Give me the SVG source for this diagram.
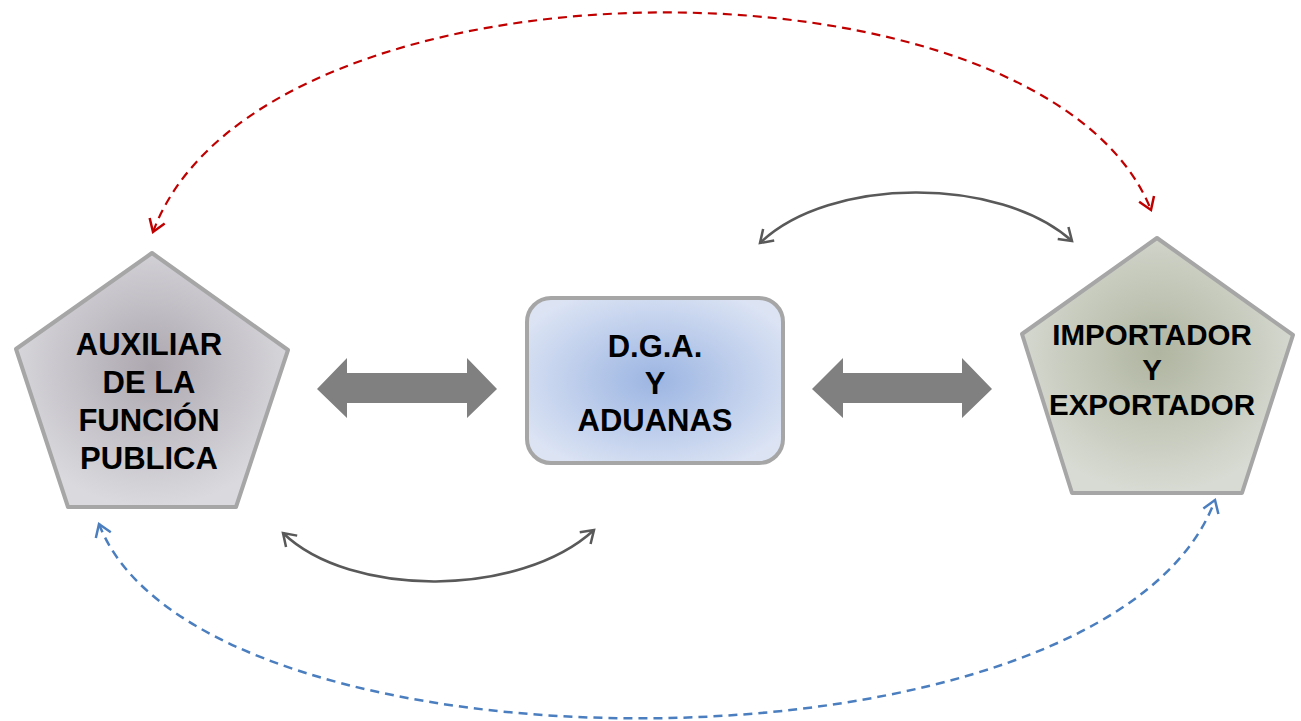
<svg xmlns="http://www.w3.org/2000/svg" width="1301" height="721" viewBox="0 0 1301 721">
<style>
.lbl{font-family:"Liberation Sans",Arial,sans-serif;font-weight:bold;font-size:31px;fill:#000;text-anchor:middle}
.lblr{font-size:29.5px}
.shape{stroke:#A6A6A6;stroke-width:4;stroke-linejoin:round}
.big{fill:#808080}
.gray{fill:none;stroke:#595959;stroke-width:2.5}
.red{fill:none;stroke:#C00000;stroke-width:2.2;stroke-dasharray:9 6}
.blue{fill:none;stroke:#4A7EBF;stroke-width:2.5;stroke-dasharray:9 6}
</style>
<defs>
<radialGradient id="gL" cx="50%" cy="45%" r="55%">
<stop offset="0" stop-color="#ADA7B0"/><stop offset="1" stop-color="#DADADE"/>
</radialGradient>
<radialGradient id="gR" cx="50%" cy="45%" r="55%">
<stop offset="0" stop-color="#AFB5A0"/><stop offset="1" stop-color="#D8DBD3"/>
</radialGradient>
<radialGradient id="gC" cx="50%" cy="50%" r="60%">
<stop offset="0" stop-color="#9CB5E2"/><stop offset="1" stop-color="#DCE4F4"/>
</radialGradient>
<marker id="mG" viewBox="0 0 20 20" refX="16" refY="10" markerWidth="20" markerHeight="20" markerUnits="userSpaceOnUse" orient="auto-start-reverse">
<path d="M4,2 L16,10 L4,18" fill="none" stroke="#595959" stroke-width="2.5"/>
</marker>
<marker id="mR" viewBox="0 0 20 20" refX="16" refY="10" markerWidth="20" markerHeight="20" markerUnits="userSpaceOnUse" orient="auto-start-reverse">
<path d="M4,2 L16,10 L4,18" fill="none" stroke="#C00000" stroke-width="2.5"/>
</marker>
<marker id="mB" viewBox="0 0 20 20" refX="16" refY="10" markerWidth="20" markerHeight="20" markerUnits="userSpaceOnUse" orient="auto-start-reverse">
<path d="M4,2 L16,10 L4,18" fill="none" stroke="#4A7EBF" stroke-width="2.5"/>
</marker>
</defs>
<rect width="1301" height="721" fill="#fff"/>

<g id="auxiliar">
<polygon class="shape" fill="url(#gL)" points="152,253 288,350 236,507 68,507 16,349"/>
<text class="lbl" x="149" y="355">AUXILIAR</text>
<text class="lbl" x="149" y="393">DE LA</text>
<text class="lbl" x="149" y="431">FUNCIÓN</text>
<text class="lbl" x="149" y="469">PUBLICA</text>
</g>

<g id="dga">
<rect class="shape" fill="url(#gC)" x="527" y="298" width="256" height="165" rx="24" ry="24"/>
<text class="lbl" x="655" y="357">D.G.A.</text>
<text class="lbl" x="655" y="394">Y</text>
<text class="lbl" x="655" y="431">ADUANAS</text>
</g>

<g id="importador">
<polygon class="shape" fill="url(#gR)" points="1157,238 1293,335 1242,493 1072,493 1022,334"/>
<text class="lbl lblr" x="1152" y="345">IMPORTADOR</text>
<text class="lbl lblr" x="1152" y="380">Y</text>
<text class="lbl lblr" x="1152" y="415">EXPORTADOR</text>
</g>

<g id="connectors">
<polygon class="big" points="317,389 347,358 347,373 467,373 467,358 497,389 467,418 467,403 347,403 347,418"/>
<polygon class="big" points="812,389 843,358 843,373 962,373 962,358 992,389 962,418 962,403 843,403 843,418"/>
<path class="gray" d="M760,243 C830,176 1000,176 1072,241" marker-start="url(#mG)" marker-end="url(#mG)"/>
<path class="gray" d="M283,533 C350,598 520,598 594,530" marker-start="url(#mG)" marker-end="url(#mG)"/>
<path class="red" d="M153,232 C260,-57 1045,-57 1151,210" marker-start="url(#mR)" marker-end="url(#mR)"/>
<path class="blue" d="M99,524 C200,787 1110,787 1215,500" marker-start="url(#mB)" marker-end="url(#mB)"/>
</g>
</svg>
